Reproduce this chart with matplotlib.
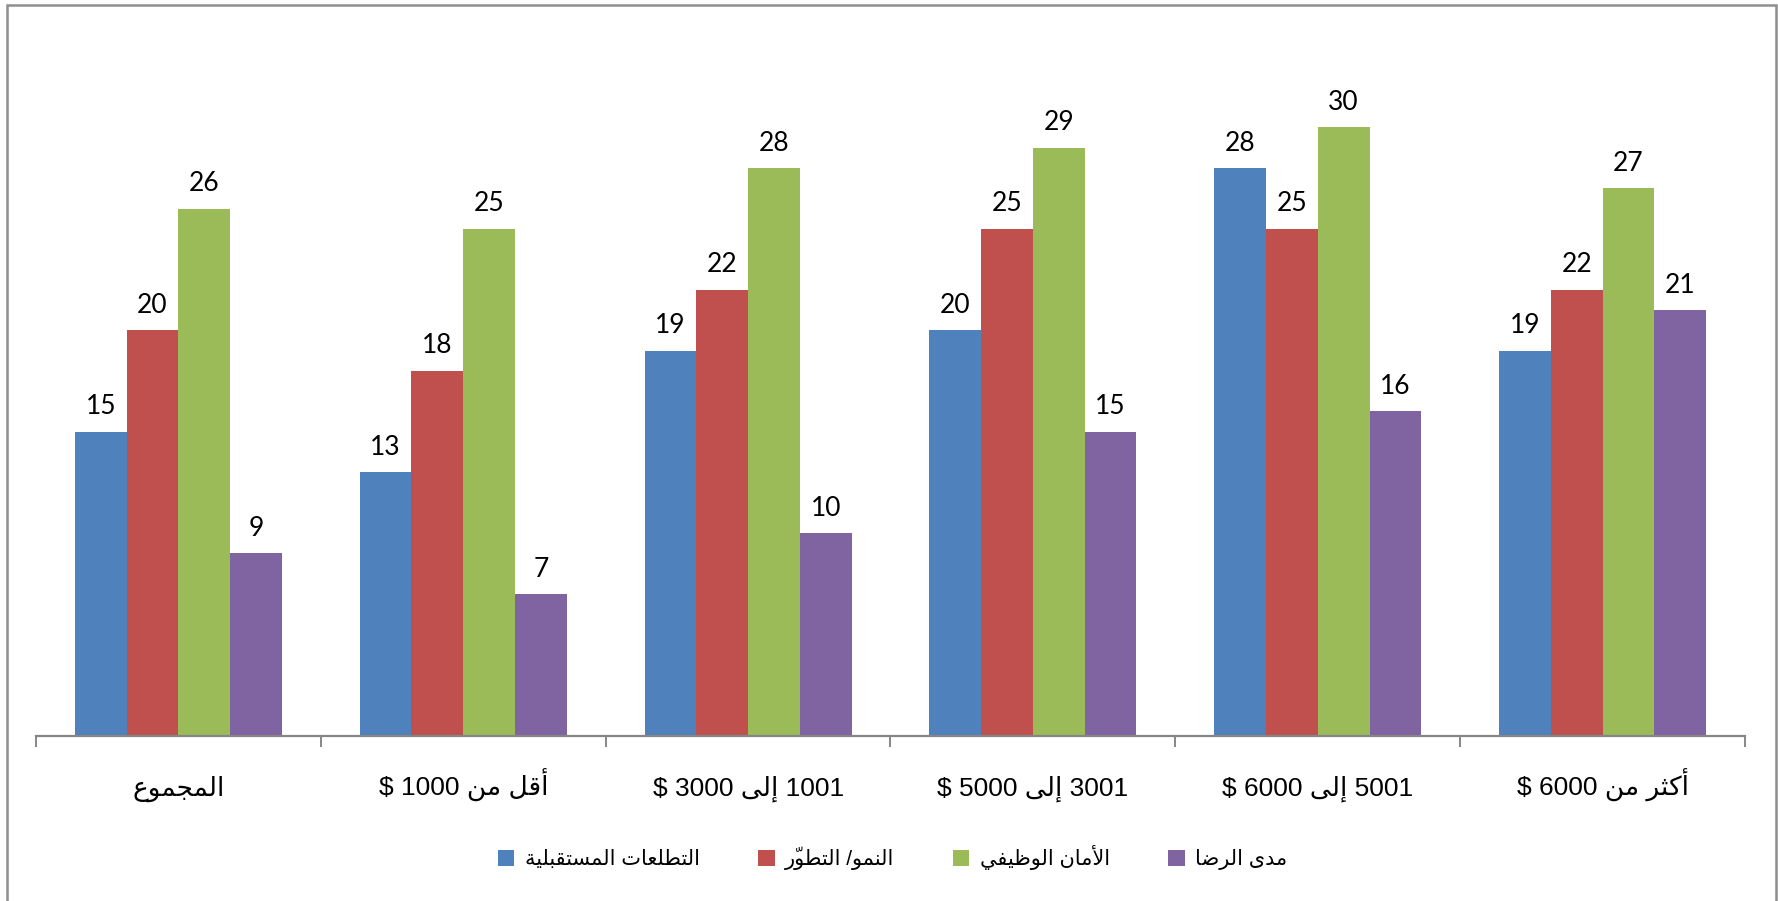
import matplotlib
matplotlib.use("Agg")
import matplotlib.pyplot as plt
import numpy as np
from matplotlib.patches import Rectangle

# income groups (logical Arabic text) and the four survey dimensions
categories = ['المجموع', 'أقل من 1000 $', '1001 إلى 3000 $',
              '3001 إلى 5000 $', '5001 إلى 6000 $', 'أكثر من 6000 $']
series_names = ['التطلعات المستقبلية', 'النمو/ التطوّر', 'الأمان الوظيفي', 'مدى الرضا']

future = [15, 13, 19, 20, 28, 19]
growth = [20, 18, 22, 25, 25, 22]
security = [26, 25, 28, 29, 30, 27]
satisfaction = [9, 7, 10, 15, 16, 21]

colors = ['#4F81BD', '#C0504D', '#9BBB59', '#8064A2']

# presentation-form base code and joining type for each letter
# D: joins both sides (isolated, final, initial, medial), R: right side only
ARABIC_FORMS = {
    'أ': (0xFE83, 'R'), 'إ': (0xFE87, 'R'), 'ا': (0xFE8D, 'R'), 'ب': (0xFE8F, 'D'),
    'ة': (0xFE93, 'R'), 'ت': (0xFE95, 'D'), 'ث': (0xFE99, 'D'), 'ج': (0xFE9D, 'D'),
    'د': (0xFEA9, 'R'), 'ر': (0xFEAD, 'R'), 'س': (0xFEB1, 'D'), 'ض': (0xFEBD, 'D'),
    'ط': (0xFEC1, 'D'), 'ظ': (0xFEC5, 'D'), 'ع': (0xFEC9, 'D'), 'ف': (0xFED1, 'D'),
    'ق': (0xFED5, 'D'), 'ك': (0xFED9, 'D'), 'ل': (0xFEDD, 'D'), 'م': (0xFEE1, 'D'),
    'ن': (0xFEE5, 'D'), 'و': (0xFEED, 'R'), 'ى': (0xFEEF, 'R'), 'ي': (0xFEF1, 'D'),
}
LAM_ALEF = {'آ': 0xFEF5, 'أ': 0xFEF7, 'إ': 0xFEF9, 'ا': 0xFEFB}


def shape_word(word):
    # group letters into units: [letter, lam-alef ligature code, attached marks]
    units = []
    i = 0
    while i < len(word):
        ch = word[i]
        if ch == 'ل' and i + 1 < len(word) and word[i + 1] in LAM_ALEF:
            units.append([ch, LAM_ALEF[word[i + 1]], ''])
            i += 2
            continue
        if '\u064B' <= ch <= '\u0652' and units:
            units[-1][2] += ch
        else:
            units.append([ch, None, ''])
        i += 1

    # marks go first so they are drawn over the letter that follows them visually
    clusters = []
    for k, (ch, lig, marks) in enumerate(units):
        prev = units[k - 1] if k > 0 else None
        nxt = units[k + 1] if k + 1 < len(units) else None
        joins_prev = (prev is not None and prev[1] is None and prev[0] in ARABIC_FORMS
                      and ARABIC_FORMS[prev[0]][1] == 'D')
        if lig is not None:
            clusters.append(marks + chr(lig + (1 if joins_prev else 0)))
            continue
        if ch not in ARABIC_FORMS:
            clusters.append(marks + ch)
            continue
        base, jtype = ARABIC_FORMS[ch]
        joins_next = jtype == 'D' and nxt is not None and nxt[0] in ARABIC_FORMS
        if joins_prev and joins_next:
            form = 3
        elif joins_prev:
            form = 1
        elif joins_next:
            form = 2
        else:
            form = 0
        clusters.append(marks + chr(base + form))
    return clusters


def rtl(text):
    # right-to-left line: reverse word order, draw Arabic words right to left
    out = []
    for token in reversed(text.split(' ')):
        if any('\u0600' <= c <= '\u06FF' for c in token):
            out.append(''.join(reversed(shape_word(token))))
        else:
            out.append(token)
    return ' '.join(out)


W, H = 1778, 901
fig = plt.figure(figsize=(W / 100, H / 100), dpi=100)
fig.patch.set_facecolor('white')

ax_left, ax_right = 36 / W, 1745 / W
ax_bottom, ax_top = 1 - 736 / H, 1 - 26 / H
ax = fig.add_axes([ax_left, ax_bottom, ax_right - ax_left, ax_top - ax_bottom])

values = [future, growth, security, satisfaction]
x = np.arange(len(categories))
bar_w = 1 / 5.5

label_font = ['Lato', 'DejaVu Sans']
for i, (vals, col, name) in enumerate(zip(values, colors, series_names)):
    pos = x + (i - 1.5) * bar_w
    ax.bar(pos, vals, width=bar_w, color=col, edgecolor='none', label=rtl(name))
    for px, v in zip(pos, vals):
        ax.annotate(f'{v}', (px, v), xytext=(0, 12.5), textcoords='offset points',
                    ha='center', va='baseline', fontsize=19, family=label_font,
                    color='black')

ax.set_xlim(-0.5, len(categories) - 0.5)
ax.set_ylim(0, 35)

for side in ['left', 'right', 'top']:
    ax.spines[side].set_visible(False)
ax.spines['bottom'].set_color('#868686')
ax.spines['bottom'].set_linewidth(1.6)
ax.set_yticks([])

# boundary ticks between groups, labels at the group centres
ax.set_xticks(np.arange(-0.5, len(categories), 1.0))
ax.set_xticklabels([])
ax.tick_params(axis='x', which='major', direction='out', length=8, width=1.4,
               color='#868686')
ax.set_xticks(x, [rtl(c) for c in categories], minor=True)
ax.tick_params(axis='x', which='minor', length=0, pad=43)
for lbl in ax.get_xticklabels(minor=True):
    lbl.set_family(['Liberation Sans', 'DejaVu Sans'])
    lbl.set_fontsize(19)
    lbl.set_va('baseline')

leg = fig.legend(loc='center', bbox_to_anchor=(0.502, 1 - 858 / H), ncol=4,
                 frameon=False, handlelength=0.8, handleheight=0.8,
                 handletextpad=0.5, columnspacing=2.8,
                 prop={'family': ['Liberation Sans', 'DejaVu Sans'], 'size': 15})

# outer chart border
fig.patches.append(Rectangle((6.5 / W, -0.02), (1776 - 6.5) / W, 1.02 - 5 / H,
                             transform=fig.transFigure, fill=False,
                             edgecolor='#8e8e8e', linewidth=1.8))

fig.savefig('out.png', dpi=100, facecolor='white')
